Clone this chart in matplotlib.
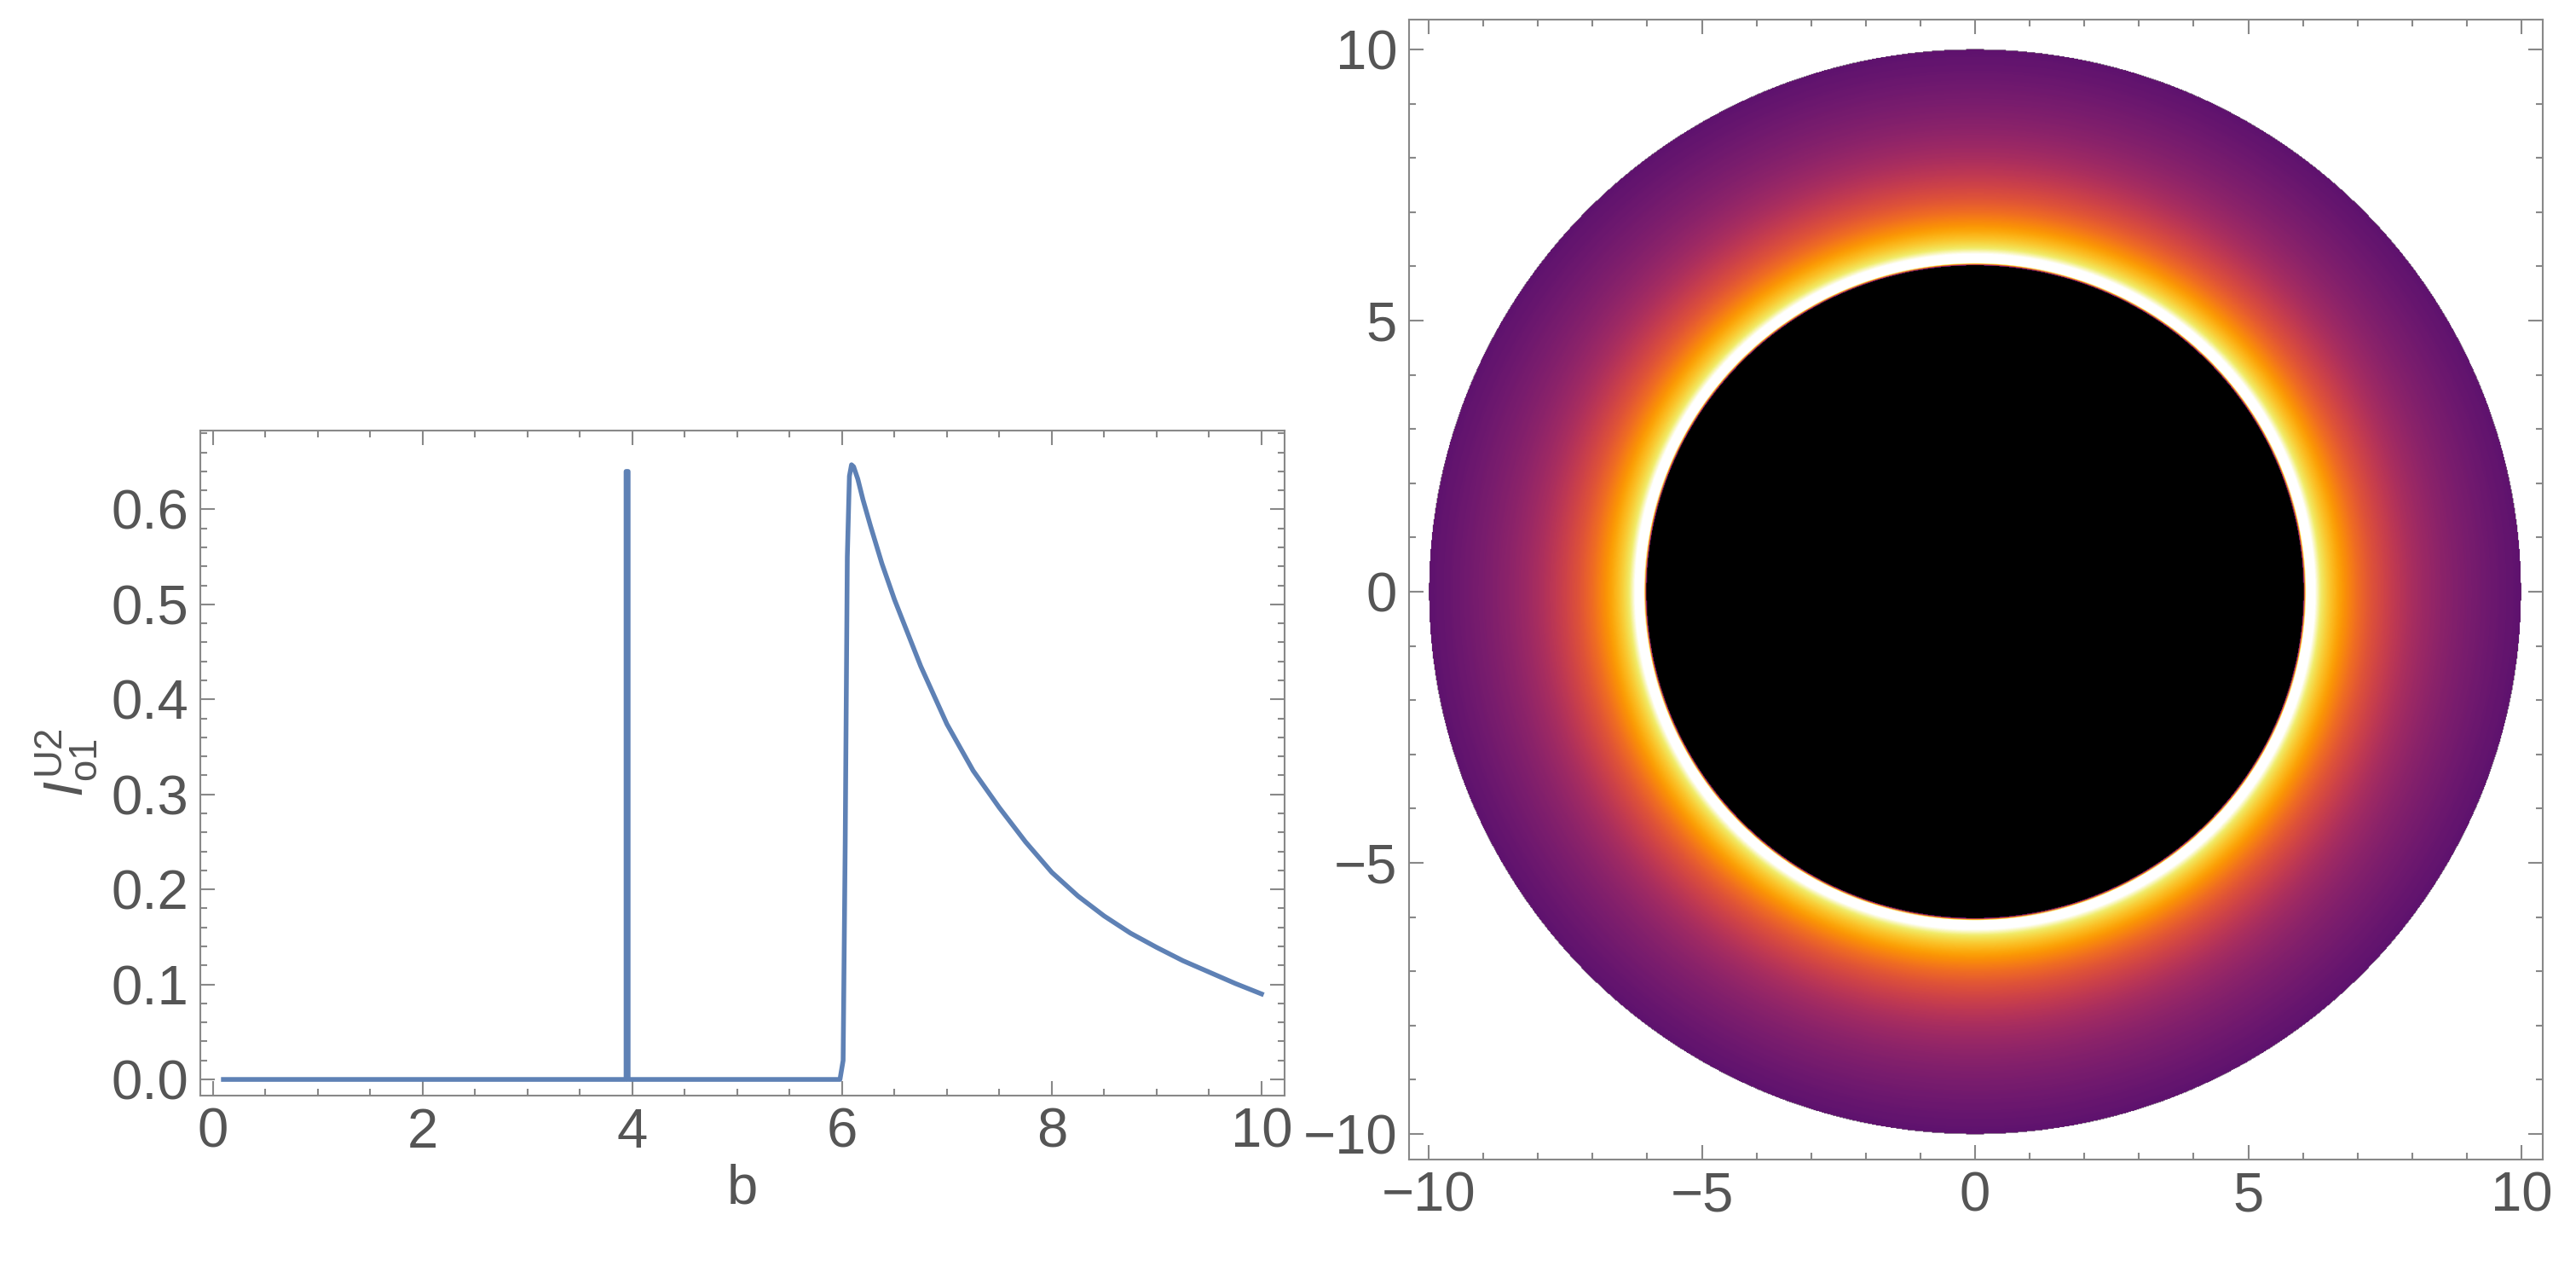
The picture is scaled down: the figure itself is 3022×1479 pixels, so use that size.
import numpy as np
import matplotlib
matplotlib.use("Agg")
import matplotlib.pyplot as plt
from matplotlib.ticker import MultipleLocator
from matplotlib.colors import ListedColormap

plt.rcParams['font.family'] = ['Liberation Sans', 'DejaVu Sans']
plt.rcParams['mathtext.fontset'] = 'custom'
plt.rcParams['mathtext.rm'] = 'Liberation Sans'
plt.rcParams['mathtext.it'] = 'Liberation Sans:italic'

b_vals = [0.1, 3.94, 3.94, 3.96, 3.96, 5.98, 6.01, 6.03, 6.05, 6.07, 6.09, 6.11, 6.15,
          6.2, 6.27, 6.38, 6.5, 6.75, 7.0, 7.25, 7.5, 7.75, 8.0, 8.25, 8.5, 8.75, 9.0,
          9.25, 9.5, 9.75, 10.0]
I_vals = [0.0, 0.0, 0.64, 0.64, 0.0, 0.0, 0.02, 0.25, 0.55, 0.635, 0.647, 0.645, 0.632,
          0.61, 0.583, 0.543, 0.505, 0.435, 0.374, 0.325, 0.286, 0.25, 0.218, 0.193,
          0.172, 0.154, 0.139, 0.125, 0.113, 0.101, 0.09]
r_inner = 6.0
r_outer = 10.0

gray = '#555555'
fs = 47
fig = plt.figure(figsize=(30.22, 14.79), dpi=100)

ax1 = fig.add_axes([235/3022, 1 - 1285/1479, (1507-235)/3022, (1285-505)/1479])
ax1.plot(b_vals, I_vals, color='#5E81B5', lw=4)
ax1.set_xlim(-0.12, 10.22)
ax1.set_ylim(-0.017, 0.683)
ax1.xaxis.set_major_locator(MultipleLocator(2))
ax1.xaxis.set_minor_locator(MultipleLocator(0.5))
ax1.yaxis.set_major_locator(MultipleLocator(0.1))
ax1.yaxis.set_minor_locator(MultipleLocator(0.02))
ax1.yaxis.set_major_formatter(matplotlib.ticker.FormatStrFormatter('%.1f'))
ax1.set_xlabel('b', fontsize=fs, color=gray)
ax1.set_ylabel(r'$I^{\mathrm{U2}}_{\mathrm{o1}}$', fontsize=fs, color=gray, labelpad=10)

n = 1400
xs = np.linspace(-10.4, 10.4, n)
X, Y = np.meshgrid(xs, xs)
R = np.hypot(X, Y)
Z = np.interp(R, b_vals[5:], I_vals[5:])
Z[R < r_inner] = -1.0
Z = np.ma.masked_where(R > r_outer, Z)
base = plt.get_cmap('inferno')(np.linspace(0.27, 1.0, 256))
base[-20:] = np.linspace(base[-20], [1, 1, 1, 1], 20)
cmap = ListedColormap(base).with_extremes(under='black')

ax2 = fig.add_axes([1653/3022, 1 - 1360/1479, (2983-1653)/3022, (1360-23)/1479])
ax2.imshow(Z, cmap=cmap, vmin=0.09, vmax=0.6, origin='lower',
           extent=[xs[0], xs[-1], xs[0], xs[-1]], aspect='auto', interpolation='bilinear')
ax2.set_xlim(-10.36, 10.39)
ax2.set_ylim(-10.47, 10.55)
ax2.xaxis.set_minor_locator(MultipleLocator(1))
ax2.yaxis.set_minor_locator(MultipleLocator(1))
ax2.set_xticks([-10, -5, 0, 5, 10])
ax2.set_xticklabels(['\u221210', '\u22125', '0', '5', '10'])
ax2.set_yticks([-10, -5, 0, 5, 10])
ax2.set_yticklabels(['\u221210', '\u22125', '0', '5', '10'])

for ax in (ax1, ax2):
    for s in ax.spines.values():
        s.set_color('#888888')
        s.set_linewidth(1.5)
    ax.tick_params(which='both', direction='in', top=True, right=True, colors='#888888',
                   labelcolor=gray, labelsize=fs, width=1.5)
    ax.tick_params(which='major', length=12, pad=10)
    ax.tick_params(which='minor', length=6)

fig.savefig('out.png', dpi=100)
